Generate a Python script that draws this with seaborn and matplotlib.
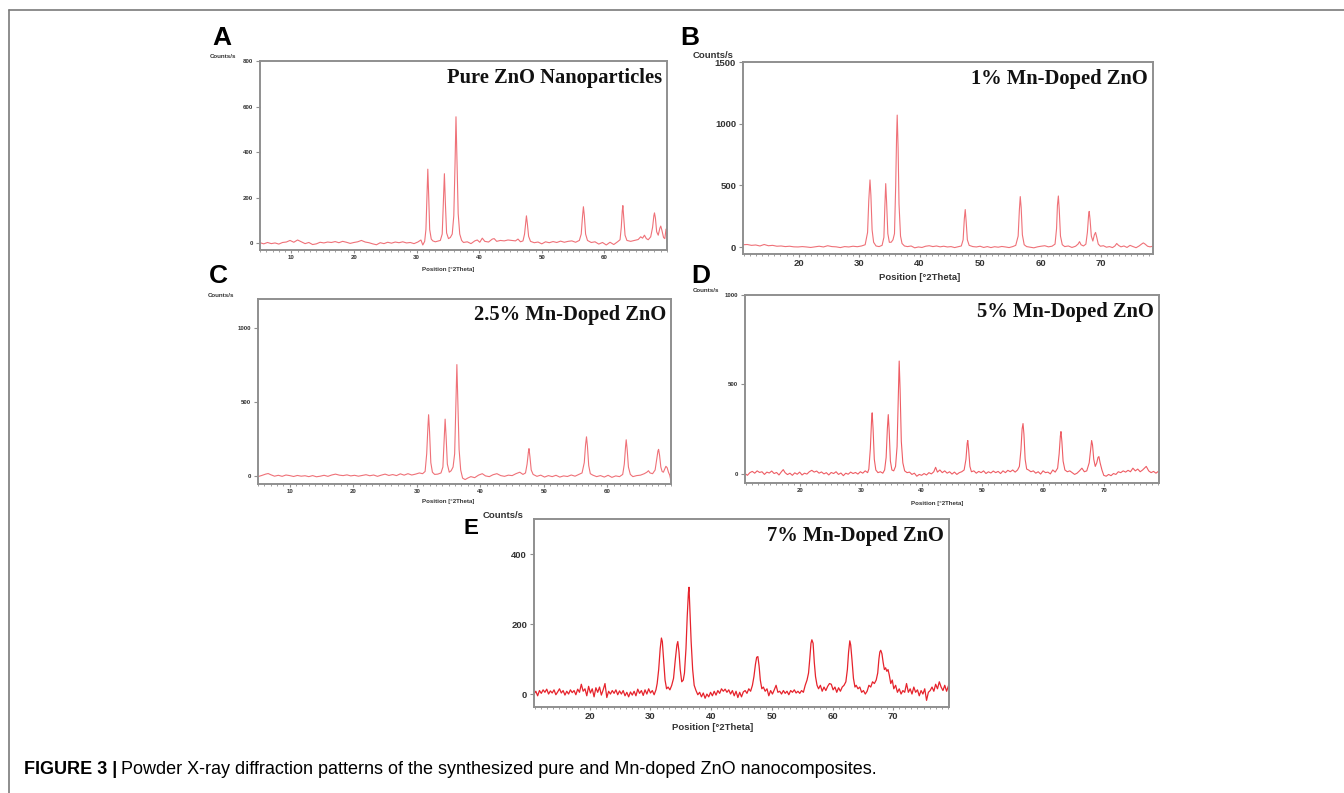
import matplotlib
matplotlib.use("Agg")
import matplotlib.pyplot as plt
import seaborn as sns
import pandas as pd
from matplotlib.lines import Line2D
from matplotlib.ticker import MultipleLocator

# Digitised scans: (position in deg 2Theta, counts/s)
scan_a = [
    (5.0, 2), (5.6, -3), (6.2, 3), (6.8, -2), (7.4, 1), (8.0, -4), (8.6, 3), (9.2, 5), (9.8, 12),
    (10.4, 4), (11.0, 14), (11.6, 6), (12.2, -2), (12.8, 3), (13.4, -6), (14.0, -3), (14.6, 4),
    (15.2, 1), (15.8, 5), (16.4, 3), (17.0, 7), (17.6, 2), (18.2, 8), (18.8, 4), (19.4, -1),
    (20.0, 3), (20.6, 6), (21.2, 12), (21.8, 5), (22.4, 2), (23.0, -3), (23.6, -7), (24.2, 2),
    (24.8, -2), (25.4, 4), (26.0, 0), (26.6, 5), (27.2, 2), (27.8, 6), (28.4, 1), (29.0, 3),
    (29.6, -2), (30.2, 5), (30.7, 14), (31.0, -8), (31.3, 8),
    (31.5, 60), (31.7, 230), (31.8, 325), (31.95, 200), (32.1, 60), (32.35, 18),
    (32.6, 10), (33.0, 6), (33.4, 9), (33.8, 12),
    (34.1, 40), (34.3, 190), (34.45, 305), (34.6, 180), (34.8, 45), (35.1, 20), (35.4, 25), (35.7, 40),
    (35.95, 120), (36.15, 350), (36.3, 555), (36.45, 380), (36.65, 130), (36.9, 40), (37.2, 12), (37.5, 3),
    (38.1, 6), (38.7, -2), (39.3, 10), (39.7, 14), (40.1, 4), (40.5, 22), (40.9, 8), (41.5, 5),
    (42.1, 18), (42.4, 20), (42.8, 8), (43.4, 12), (44.0, 10), (44.6, 14), (45.2, 12), (45.8, 10),
    (46.2, 18), (46.6, 6), (47.0, 10),
    (47.25, 40), (47.45, 95), (47.55, 120), (47.7, 85), (47.9, 30), (48.2, 8),
    (48.8, 2), (49.4, 5), (50.0, -3), (50.6, 6), (51.2, 2), (51.8, 7), (52.4, 3), (53.0, 9),
    (53.6, 4), (54.2, 8), (54.8, 10), (55.4, 4), (56.0, 12),
    (56.3, 40), (56.5, 115), (56.65, 160), (56.8, 120), (57.0, 40), (57.3, 12),
    (57.9, 3), (58.5, 6), (59.1, -4), (59.7, 3), (60.3, -8), (60.9, 4), (61.5, -6), (62.1, 6), (62.5, 15),
    (62.7, 70), (62.85, 140), (62.95, 165), (63.1, 110), (63.3, 35), (63.6, 12),
    (64.2, 8), (64.8, 12), (65.4, 16), (65.8, 28), (66.1, 22), (66.4, 35), (66.7, 20), (67.0, 15), (67.4, 28),
    (67.7, 70), (67.9, 120), (68.0, 133), (68.15, 110), (68.35, 50), (68.6, 35), (68.85, 65),
    (69.0, 75), (69.2, 55), (69.45, 25), (69.65, 20), (69.85, 62), (69.95, 60), (70.0, 5),
]

scan_b = [
    (10.8, 20), (11.5, 22), (12.2, 15), (12.9, 18), (13.6, 10), (14.3, 22), (15.0, 12), (15.7, 15),
    (16.4, 8), (17.1, 10), (17.8, 5), (18.5, 8), (19.2, 3), (19.9, 2), (20.6, 5), (21.3, 2),
    (22.0, -2), (22.7, 3), (23.4, 8), (24.1, 2), (24.8, 12), (25.5, 5), (26.2, 3), (26.9, -3),
    (27.6, 5), (28.3, 2), (29.0, 8), (29.7, 4), (30.4, 10), (31.0, 20),
    (31.4, 120), (31.6, 380), (31.8, 545), (31.95, 420), (32.15, 140), (32.4, 40), (32.8, 10),
    (33.3, 5), (33.8, 15), (34.1, 80),
    (34.25, 320), (34.4, 515), (34.55, 360), (34.75, 110), (35.0, 40), (35.3, 40), (35.6, 60), (35.85, 110),
    (36.05, 500), (36.2, 900), (36.3, 1070), (36.45, 800), (36.6, 350), (36.85, 90), (37.1, 30), (37.5, 10),
    (38.0, 5), (38.6, 10), (39.2, -5), (39.8, 2), (40.4, -2), (41.0, 8), (41.6, 12), (42.2, 5),
    (42.8, 10), (43.4, 3), (44.0, 8), (44.6, 2), (45.2, 5), (45.8, -3), (46.4, 4), (46.9, 10),
    (47.2, 60), (47.4, 230), (47.55, 305), (47.7, 210), (47.9, 60), (48.2, 15),
    (48.8, 5), (49.4, 2), (50.0, 8), (50.6, -2), (51.2, 5), (51.8, -3), (52.4, 4), (53.0, 0),
    (53.6, 6), (54.2, 2), (54.8, -3), (55.4, 5), (55.9, 15),
    (56.3, 90), (56.5, 300), (56.65, 410), (56.8, 320), (57.0, 100), (57.3, 20), (57.7, 5),
    (58.3, 0), (58.9, -5), (59.5, 3), (60.1, 8), (60.7, 12), (61.3, 3), (61.9, 8), (62.4, 25),
    (62.65, 150), (62.8, 340), (62.95, 415), (63.1, 300), (63.3, 90), (63.6, 20), (64.0, 5),
    (64.6, 10), (65.2, -2), (65.8, 8), (66.2, 25), (66.45, 45), (66.7, 20), (67.1, 10), (67.5, 25),
    (67.75, 120), (67.95, 260), (68.05, 290), (68.2, 220), (68.4, 90), (68.65, 50), (68.9, 100),
    (69.1, 120), (69.3, 80), (69.55, 25), (69.9, 8),
    (70.4, 12), (70.9, 0), (71.4, 5), (71.9, -3), (72.3, 10), (72.6, 30), (72.9, 15), (73.3, 3),
    (73.8, 10), (74.3, -2), (74.8, 15), (75.3, 5), (75.8, -4), (76.3, 10), (76.7, 25), (77.0, 35),
    (77.3, 25), (77.7, 8), (78.1, 3), (78.6, 8),
]

scan_c = [
    (5.0, -5), (5.6, 3), (6.2, 12), (6.6, 16), (7.0, 8), (7.6, -2), (8.2, 4), (8.8, -3), (9.4, 6),
    (10.0, 2), (10.6, -4), (11.2, 3), (11.8, -2), (12.4, 1), (13.0, -5), (13.6, 2), (14.2, -6),
    (14.8, -2), (15.4, 4), (16.0, -3), (16.6, 6), (17.2, 12), (17.8, 5), (18.4, 2), (19.0, 7),
    (19.6, 0), (20.2, 4), (20.8, -2), (21.4, 3), (22.0, 8), (22.6, 1), (23.2, 6), (23.8, -3),
    (24.4, 5), (25.0, 12), (25.6, 3), (26.2, 9), (26.8, 2), (27.4, 14), (28.0, 5), (28.6, 15),
    (29.2, 6), (29.8, 12), (30.4, 20), (30.9, 15), (31.3, 30),
    (31.55, 150), (31.75, 340), (31.85, 415), (32.0, 300), (32.2, 90), (32.45, 25), (32.8, 10),
    (33.3, 12), (33.8, 20), (34.1, 60),
    (34.3, 250), (34.45, 385), (34.6, 270), (34.8, 80), (35.1, 25), (35.4, 35), (35.7, 60), (35.95, 150),
    (36.15, 480), (36.3, 755), (36.45, 520), (36.65, 180), (36.9, 40), (37.2, -15), (37.6, -25),
    (38.0, -15), (38.5, -5),
    (39.1, -12), (39.7, 5), (40.3, 15), (40.8, 0), (41.4, -5), (42.0, 8), (42.6, 15), (43.2, 2),
    (43.8, -3), (44.4, 5), (45.0, 2), (45.6, 15), (46.2, 25), (46.7, 10), (47.1, 20),
    (47.35, 80), (47.55, 160), (47.65, 185), (47.8, 130), (48.0, 40), (48.3, 10),
    (48.9, -3), (49.5, 5), (50.1, -8), (50.7, 2), (51.3, -5), (51.9, 4), (52.5, -8), (53.1, 0),
    (53.7, -4), (54.3, 6), (54.9, -2), (55.5, 10), (56.0, 20),
    (56.35, 90), (56.55, 210), (56.7, 265), (56.85, 200), (57.05, 70), (57.3, 15), (57.7, 5), (58.3, -5),
    (58.9, 2), (59.5, -8), (60.1, 4), (60.7, -10), (61.3, 0), (61.9, -5), (62.4, 10),
    (62.65, 80), (62.85, 200), (62.95, 245), (63.1, 180), (63.3, 60), (63.6, 10), (64.0, -5),
    (64.6, 2), (65.2, 5), (65.8, 15), (66.2, 25), (66.45, 35), (66.7, 20), (67.1, 15), (67.5, 40),
    (67.75, 110), (67.95, 170), (68.05, 180), (68.2, 140), (68.4, 60), (68.6, 30), (68.8, 25),
    (69.0, 45), (69.2, 65), (69.4, 55), (69.6, 25), (69.8, 5), (70.0, -35),
]

scan_d = [
    (10.9, 0), (11.3, -10), (11.7, 5), (12.1, 12), (12.5, 2), (12.9, 15), (13.3, 6), (13.7, 10),
    (14.1, -5), (14.5, 8), (14.9, 3), (15.3, 14), (15.7, 0), (16.1, 6), (16.5, -8), (16.9, 10),
    (17.2, 22), (17.5, 5), (17.9, -6), (18.3, 2), (18.7, -10), (19.1, 4), (19.5, -4), (19.9, 8),
    (20.3, -8), (20.7, 2), (21.1, -3), (21.5, 10), (21.9, 18), (22.3, 8), (22.7, 14), (23.1, 2),
    (23.5, 9), (23.9, -2), (24.3, 5), (24.7, -8), (25.1, 6), (25.5, 0), (25.9, 10), (26.3, -5),
    (26.7, 3), (27.1, -12), (27.5, 2), (27.9, -4), (28.3, 8), (28.7, 0), (29.1, 6), (29.5, -3),
    (29.9, 10), (30.3, 2), (30.7, 15), (31.1, 5), (31.3, 25),
    (31.55, 140), (31.75, 300), (31.85, 340), (32.0, 250), (32.2, 80), (32.45, 20), (32.8, 5),
    (33.2, 10), (33.6, 2), (33.9, 20), (34.15, 90),
    (34.35, 250), (34.5, 330), (34.65, 240), (34.85, 70), (35.1, 20), (35.4, 15), (35.7, 40), (35.95, 150),
    (36.15, 420), (36.3, 630), (36.45, 470), (36.65, 180), (36.9, 60), (37.2, 15), (37.6, 5),
    (38.0, 8), (38.4, -5), (38.8, 2), (39.2, -15), (39.6, -5), (40.0, -10), (40.4, 0), (40.8, -8),
    (41.2, 5), (41.6, -2), (42.0, 10), (42.3, 35), (42.6, 8), (43.0, 20), (43.4, 5), (43.8, 15),
    (44.2, 2), (44.6, 10), (45.0, -3), (45.4, 8), (45.8, -5), (46.2, 5), (46.6, 10), (47.0, 20),
    (47.3, 80), (47.5, 170), (47.6, 185), (47.75, 130), (47.95, 40), (48.2, 10),
    (48.6, 15), (49.0, 2), (49.4, 12), (49.8, 5), (50.2, 15), (50.6, 0), (51.0, 10), (51.4, 3),
    (51.8, 14), (52.2, 5), (52.6, 12), (53.0, 0), (53.4, 15), (53.8, 5), (54.2, 18), (54.6, 10),
    (55.0, 20), (55.4, 8), (55.8, 20), (56.1, 40),
    (56.35, 130), (56.55, 250), (56.7, 280), (56.85, 220), (57.05, 80), (57.3, 25), (57.6, 20), (58.0, 10),
    (58.4, 15), (58.8, 2), (59.2, 10), (59.6, -3), (60.0, 15), (60.4, 5), (60.8, 8), (61.2, -2),
    (61.6, 20), (62.0, 8), (62.4, 30),
    (62.65, 110), (62.85, 210), (62.95, 235), (63.1, 180), (63.3, 70), (63.6, 20), (64.0, 10),
    (64.4, 15), (64.8, 5), (65.2, -5), (65.6, 2), (66.0, 15), (66.4, 30), (66.8, 10), (67.2, 15), (67.6, 60),
    (67.85, 140), (68.0, 185), (68.15, 160), (68.35, 80), (68.6, 40), (68.85, 60), (69.05, 90),
    (69.2, 95), (69.4, 60), (69.7, 20), (70.0, -10),
    (70.4, -15), (70.8, -5), (71.2, -12), (71.6, 0), (72.0, -5), (72.4, 10), (72.8, 5), (73.2, 15),
    (73.6, 8), (74.0, 18), (74.4, 10), (74.8, 30), (75.2, 15), (75.6, 25), (76.0, 10), (76.4, 20),
    (76.7, 30), (77.0, 40), (77.4, 15), (77.8, 5), (78.2, 12), (78.6, 2), (79.1, 15),
]

scan_e = [
    (10.8, 0), (11.1, 8), (11.4, -5), (11.7, 10), (12.0, 2), (12.3, 12), (12.6, 5), (12.9, 14),
    (13.2, 0), (13.5, 9), (13.8, 3), (14.1, 12), (14.4, -2), (14.7, 6), (15.0, 15), (15.3, 3),
    (15.6, 10), (15.9, -3), (16.2, 8), (16.5, 0), (16.8, 12), (17.1, 4), (17.4, 10), (17.7, -2),
    (18.0, 14), (18.3, 5), (18.6, 28), (18.9, 8), (19.2, 15), (19.5, -5), (19.8, 22), (20.1, 3),
    (20.4, 15), (20.7, -8), (21.0, 18), (21.3, 5), (21.6, 20), (21.9, -3), (22.2, 12), (22.5, 30),
    (22.8, -10), (23.1, 8), (23.4, 0), (23.7, 10), (24.0, 2), (24.3, 12), (24.6, -2), (24.9, 9),
    (25.2, 0), (25.5, 10), (25.8, -5), (26.1, 5), (26.4, -8), (26.7, 6), (27.0, -3), (27.3, 8),
    (27.6, -5), (27.9, 14), (28.2, 2), (28.5, 10), (28.8, -4), (29.1, 12), (29.4, 0), (29.7, 15),
    (30.0, 3), (30.3, 10), (30.6, -2), (30.9, 12), (31.1, 30),
    (31.35, 70), (31.6, 130), (31.8, 160), (31.95, 150), (32.15, 100), (32.4, 40), (32.65, 15),
    (32.9, 20), (33.2, 12), (33.5, 25), (33.8, 45),
    (34.1, 100), (34.35, 140), (34.5, 150), (34.7, 120), (34.9, 70), (35.15, 35), (35.4, 40), (35.6, 60),
    (35.85, 130), (36.05, 220), (36.25, 290), (36.35, 305), (36.5, 240), (36.7, 150), (36.95, 70),
    (37.2, 25), (37.5, 10), (37.8, -2),
    (38.1, 5), (38.4, -8), (38.7, 3), (39.0, -12), (39.3, 0), (39.6, -8), (39.9, 5), (40.2, -5),
    (40.5, 8), (40.8, -3), (41.1, 10), (41.4, 2), (41.7, 15), (42.0, 8), (42.3, 14), (42.6, 5),
    (42.9, 12), (43.2, 0), (43.5, 10), (43.8, -5), (44.1, 8), (44.4, -10), (44.7, 5), (45.0, -8),
    (45.3, 6), (45.6, 10), (45.9, 2), (46.2, 15), (46.5, 8), (46.8, 25),
    (47.05, 50), (47.3, 85), (47.5, 105), (47.7, 107), (47.9, 80), (48.1, 40), (48.35, 15), (48.6, 20),
    (48.9, 8), (49.2, 15), (49.5, -5), (49.8, 10), (50.1, 0), (50.4, 12), (50.7, 25), (51.0, 5),
    (51.3, 8), (51.6, 0), (51.9, 10), (52.2, 2), (52.5, 8), (52.8, -2), (53.1, 10), (53.4, 5),
    (53.7, 12), (54.0, 3), (54.3, 8), (54.6, 2), (54.9, 10), (55.2, 5), (55.5, 25), (55.8, 40),
    (56.05, 60), (56.25, 100), (56.45, 145), (56.6, 155), (56.8, 145), (57.0, 90), (57.2, 50), (57.45, 25),
    (57.7, 15), (58.0, 25), (58.3, 8), (58.6, 20), (58.9, 10), (59.2, 22), (59.5, 30), (59.8, 28),
    (60.1, 12), (60.4, 20), (60.7, 5), (61.0, 18), (61.3, 8), (61.6, 20), (61.9, 25), (62.2, 35),
    (62.45, 70), (62.65, 120), (62.85, 152), (63.0, 140), (63.2, 100), (63.45, 45), (63.7, 20), (63.9, 25),
    (64.2, 15), (64.5, 20), (64.8, 5), (65.1, 10), (65.4, 0), (65.7, 8), (66.0, 25), (66.3, 20),
    (66.6, 35), (66.9, 30), (67.2, 40), (67.45, 60),
    (67.65, 100), (67.8, 120), (67.95, 125), (68.15, 115), (68.35, 90), (68.55, 70), (68.75, 75),
    (68.95, 65), (69.15, 70), (69.35, 55), (69.6, 30), (69.85, 40),
    (70.1, 15), (70.4, 25), (70.7, 5), (71.0, 15), (71.3, 0), (71.6, 10), (71.9, 5), (72.2, 30),
    (72.5, 5), (72.8, 15), (73.1, 0), (73.4, 20), (73.7, 5), (74.0, 12), (74.3, -5), (74.6, 10),
    (74.9, 0), (75.2, 15), (75.5, -18), (75.8, 5), (76.1, 10), (76.4, 20), (76.7, 8), (77.0, 28),
    (77.3, 15), (77.6, 35), (77.9, 20), (78.2, 10), (78.5, 25), (78.8, 8), (79.2, 28),
]

letters = ["A", "B", "C", "D", "E"]
titles = ["Pure ZnO Nanoparticles", "1% Mn-Doped ZnO", "2.5% Mn-Doped ZnO",
          "5% Mn-Doped ZnO", "7% Mn-Doped ZnO"]
scans = [scan_a, scan_b, scan_c, scan_d, scan_e]
x_limits = [(5, 70), (10.8, 78.6), (5, 70), (10.9, 79.1), (10.8, 79.2)]
y_limits = [(-30, 800), (-55, 1500), (-55, 1200), (-53, 1000), (-37, 500)]
y_ticks = [[0, 200, 400, 600, 800], [0, 500, 1000, 1500], [0, 500, 1000], [0, 500, 1000], [0, 200, 400]]
x_ticks = [[10, 20, 30, 40, 50, 60], [20, 30, 40, 50, 60, 70], [10, 20, 30, 40, 50, 60],
           [20, 30, 40, 50, 60, 70], [20, 30, 40, 50, 60, 70]]

W, H = 1344, 793
# axes boxes in pixels: left, top, right, bottom
boxes = [(260, 61, 667, 250), (743, 62, 1153, 254), (258, 299, 671, 484),
         (745, 295, 1159, 483), (534, 519, 949, 707)]
big_text = [False, True, False, False, True]
line_colors = ["#ef7178", "#ef7178", "#ef7178", "#ee5d64", "#e6232c"]
# pixel positions of the "Counts/s" unit and of the x axis label (centre)
unit_pos = [(210, 57), (693, 55), (208, 295), (693, 291), (483, 515)]
xlabel_pos = [(448, 270), (920, 277), (448, 501), (937, 503), (713, 728)]
letter_pos = [(222, 38), (690, 38), (218, 276), (701, 276), (471, 528)]
letter_size = [19, 19, 19, 19, 16]

sns.set_style("white")
plt.rcParams["font.family"] = ["Liberation Sans", "DejaVu Sans"]

fig = plt.figure(figsize=(W / 100, H / 100), dpi=100)


def fx(px):
    return px / W


def fy(py):
    return 1 - py / H


for i in range(5):
    l, t, r, b = boxes[i]
    ax = fig.add_axes([fx(l), fy(b), (r - l) / W, (b - t) / H])
    df = pd.DataFrame(scans[i], columns=["theta", "counts"])
    sns.lineplot(data=df, x="theta", y="counts", ax=ax, color=line_colors[i],
                 lw=0.9 if i == 4 else 0.8, estimator=None, sort=False)
    ax.set_xlim(x_limits[i])
    ax.set_ylim(y_limits[i])
    ax.set_xticks(x_ticks[i])
    ax.set_yticks(y_ticks[i])
    ax.xaxis.set_minor_locator(MultipleLocator(1))
    ax.set_xlabel("")
    ax.set_ylabel("")
    for s in ax.spines.values():
        s.set_color("#8f8f8f")
        s.set_linewidth(1.4)
    if big_text[i]:
        fs, lab_fs = 6.8, 6.8
    else:
        fs, lab_fs = 4.4, 4.4
    ax.tick_params(axis="y", which="major", direction="out", length=3, width=0.8,
                   color="#8f8f8f", labelsize=fs, pad=2, labelcolor="#333333")
    ax.tick_params(axis="x", which="major", direction="out", length=2.5, width=0.8,
                   color="#8f8f8f", labelsize=fs, pad=1, labelcolor="#333333")
    ax.tick_params(axis="x", which="minor", direction="out", length=1.5, width=0.6, color="#8f8f8f")
    ax.tick_params(bottom=True, left=True, which="both")
    ax.tick_params(axis="y", which="minor", left=False)
    for lab in ax.get_xticklabels() + ax.get_yticklabels():
        lab.set_fontweight("bold")
    ax.text(0.988, 0.965, titles[i], transform=ax.transAxes, ha="right", va="top",
            fontsize=14.8, fontweight="bold", family=["Liberation Serif", "DejaVu Serif"],
            color="#111111")
    ux, uy = unit_pos[i]
    fig.text(fx(ux), fy(uy), "Counts/s", ha="left", va="center", fontsize=lab_fs,
             fontweight="bold", color="#333333")
    lx, ly = xlabel_pos[i]
    fig.text(fx(lx), fy(ly), "Position [°2Theta]", ha="center", va="center", fontsize=lab_fs,
             fontweight="bold", color="#333333")

for letter, (px, py), size in zip(letters, letter_pos, letter_size):
    fig.text(fx(px), fy(py), letter, ha="center", va="center", fontsize=size,
             fontweight="bold", color="black")

# figure frame: top and left rules
fig.add_artist(Line2D([fx(9), 1], [fy(10), fy(10)], transform=fig.transFigure,
                      color="#7a7a7a", lw=1.2))
fig.add_artist(Line2D([fx(9), fx(9)], [0, fy(10)], transform=fig.transFigure,
                      color="#7a7a7a", lw=1.2))

# caption
cap_y = fy(770)
bold_part = fig.text(fx(24), cap_y, "FIGURE 3 |", ha="left", va="center", fontsize=13,
                     fontweight="bold", color="black")
fig.canvas.draw()
bb = bold_part.get_window_extent()
fig.text((bb.x1 + 4) / W, cap_y,
         "Powder X-ray diffraction patterns of the synthesized pure and Mn-doped ZnO nanocomposites.",
         ha="left", va="center", fontsize=13, color="black")

fig.savefig("out.png", dpi=100)
